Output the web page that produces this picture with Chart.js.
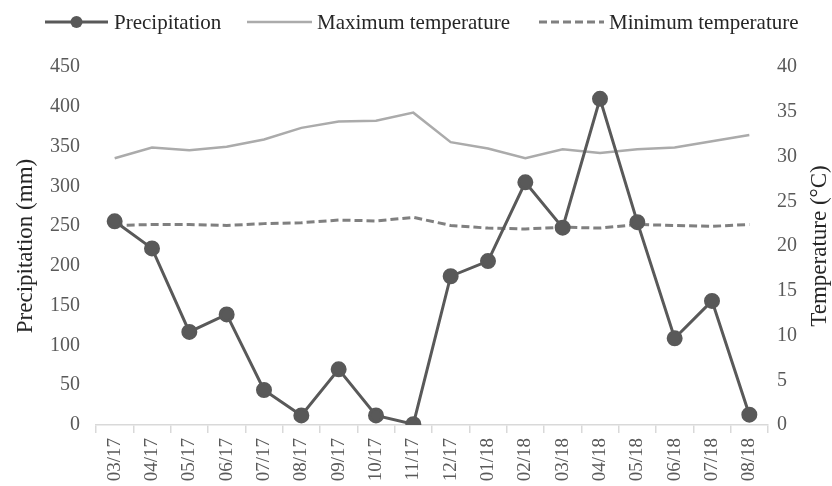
<!DOCTYPE html>
<html>
<head>
<meta charset="utf-8">
<script src="https://cdn.jsdelivr.net/npm/chart.js@4/dist/chart.umd.min.js"></script>
<style>
  html, body { margin: 0; padding: 0; background: #fff; }
  #wrap { width: 832px; height: 486px; }
</style>
</head>
<body>
<div id="wrap"><canvas id="myChart" width="832" height="486"></canvas></div>
<script>
const months = ["03/17", "04/17", "05/17", "06/17", "07/17", "08/17", "09/17", "10/17", "11/17",
    "12/17", "01/18", "02/18", "03/18", "04/18", "05/18", "06/18", "07/18", "08/18"];
const precipitation = [256, 222, 117, 139, 44, 12, 70, 12, 1, 187, 206, 305, 248, 410, 255, 109, 156, 13];
const maxTemp = [29.8, 31.0, 30.7, 31.1, 31.9, 33.2, 33.9, 34.0, 34.9, 31.6, 30.9, 29.8, 30.8, 30.4, 30.8, 31.0, 31.7, 32.4];
const minTemp = [22.3, 22.4, 22.4, 22.3, 22.5, 22.6, 22.9, 22.8, 23.2, 22.3, 22.0, 21.9, 22.1, 22.0, 22.4, 22.3, 22.2, 22.4];

const serif = "'Liberation Serif', 'Times New Roman', serif";
const tickColor = "#595959";
const titleColor = "#262626";

// legend drawn by hand so the line samples look like the original
const topLegend = {
    id: "topLegend",
    afterDraw(chart) {
        const ctx = chart.ctx;
        const y = 22;
        const items = [
            { ds: 0, x0: 45, x1: 108, tx: 114 },
            { ds: 1, x0: 247, x1: 312, tx: 317 },
            { ds: 2, x0: 539, x1: 604, tx: 609 }
        ];
        ctx.save();
        items.forEach(it => {
            const d = chart.data.datasets[it.ds];
            ctx.strokeStyle = d.borderColor;
            ctx.lineWidth = d.borderWidth;
            ctx.setLineDash(d.borderDash || []);
            ctx.beginPath();
            ctx.moveTo(it.x0, y);
            ctx.lineTo(it.x1, y);
            ctx.stroke();
            ctx.setLineDash([]);
            if (d.pointRadius > 0) {
                ctx.fillStyle = d.pointBackgroundColor;
                ctx.beginPath();
                ctx.arc((it.x0 + it.x1) / 2, y, 6, 0, Math.PI * 2);
                ctx.fill();
            }
            ctx.fillStyle = titleColor;
            ctx.font = "21px " + serif;
            ctx.textBaseline = "middle";
            ctx.fillText(d.label, it.tx, y + 1);
        });
        ctx.restore();
    }
};

// right axis title reads bottom to top in the original
const rightTitle = {
    id: "rightTitle",
    afterDraw(chart) {
        const ctx = chart.ctx;
        ctx.save();
        ctx.translate(820, 246);
        ctx.rotate(-Math.PI / 2);
        ctx.fillStyle = titleColor;
        ctx.font = "23px " + serif;
        ctx.textAlign = "center";
        ctx.textBaseline = "middle";
        ctx.fillText("Temperature (°C)", 0, 0);
        ctx.restore();
    }
};

new Chart("myChart", {
    type: "line",
    data: {
        labels: months,
        datasets: [{
            label: "Precipitation",
            data: precipitation,
            yAxisID: "y",
            borderColor: "#595959",
            backgroundColor: "#595959",
            pointBackgroundColor: "#595959",
            pointBorderColor: "#595959",
            borderWidth: 3,
            pointRadius: 6.5,
            tension: 0,
            order: 0
        }, {
            label: "Maximum temperature",
            data: maxTemp,
            yAxisID: "y1",
            borderColor: "#ababab",
            backgroundColor: "#ababab",
            borderWidth: 2.5,
            pointRadius: 0,
            tension: 0,
            order: 1
        }, {
            label: "Minimum temperature",
            data: minTemp,
            yAxisID: "y1",
            borderColor: "#808080",
            backgroundColor: "#808080",
            borderWidth: 3,
            borderDash: [8, 4],
            pointRadius: 0,
            tension: 0,
            order: 2
        }]
    },
    options: {
        responsive: false,
        animation: false,
        layout: { padding: { top: 67, bottom: 0, left: 0, right: 0 } },
        plugins: {
            legend: { display: false },
            tooltip: { enabled: false }
        },
        scales: {
            x: {
                offset: true,
                grid: {
                    offset: true,
                    drawOnChartArea: false,
                    color: "#d9d9d9",
                    tickLength: 8,
                    lineWidth: 1.5
                },
                border: { color: "#d9d9d9", width: 1.5 },
                ticks: {
                    color: tickColor,
                    font: { family: serif, size: 19 },
                    minRotation: 90,
                    maxRotation: 90,
                    padding: 5,
                    autoSkip: false
                },
                afterFit(scale) { scale.height = 61; }
            },
            y: {
                position: "left",
                min: 0,
                max: 450,
                ticks: {
                    stepSize: 50,
                    color: tickColor,
                    font: { family: serif, size: 20 },
                    padding: 8
                },
                grid: { display: false },
                border: { display: false },
                title: {
                    display: true,
                    text: "Precipitation (mm)",
                    color: titleColor,
                    font: { family: serif, size: 23 },
                    padding: { top: 12, bottom: 0 }
                },
                afterFit(scale) { scale.width = 96; }
            },
            y1: {
                position: "right",
                min: 0,
                max: 40,
                ticks: {
                    stepSize: 5,
                    color: tickColor,
                    font: { family: serif, size: 20 },
                    padding: 1
                },
                grid: { display: false },
                border: { display: false },
                afterFit(scale) { scale.width = 64; }
            }
        }
    },
    plugins: [topLegend, rightTitle]
});
</script>
</body>
</html>
